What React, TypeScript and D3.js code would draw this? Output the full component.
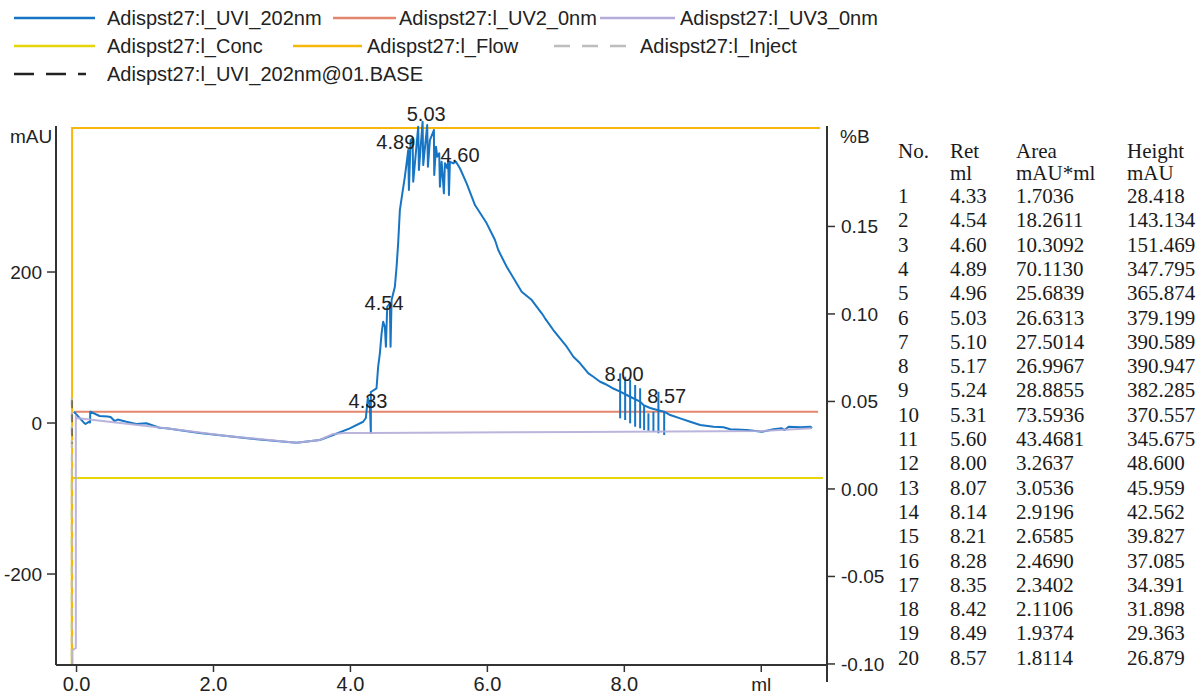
import React from "react";
import * as d3 from "d3";

// ---- data ----
const seriesNames = [
  "Adispst27:l_UVI_202nm",
  "Adispst27:l_UV2_0nm",
  "Adispst27:l_UV3_0nm",
  "Adispst27:l_Conc",
  "Adispst27:l_Flow",
  "Adispst27:l_Inject",
  "Adispst27:l_UVI_202nm@01.BASE",
];
const seriesColors = ["#1775c4", "#e3866c", "#b4add9", "#e4d60a", "#f6b60c", "#bdbdbd", "#222222"];
const seriesDash = ["", "", "", "", "", "16 12", "20 12"];

// UV 202nm trace, [ml, mAU]
const uv1Trace: [number, number][] = [
  [-0.04, 15.0], [0.117, -0.4], [0.13, -1.3], [0.175, 1.3], [0.197, 0.7], [0.2, 15.0],
  [0.336, 9.3], [0.453, 8.6], [0.497, 7.9], [0.556, 2.6], [0.6, 4.6], [0.727, 1.7],
  [0.873, -1.3], [1.019, -0.4], [1.213, -6.2], [1.311, -7.0], [1.798, -13.2], [2.529, -20.5],
  [3.212, -26.1], [3.553, -22.5], [3.747, -15.9], [3.991, -7.0], [4.186, 1.7], [4.225, 6.6],
  [4.254, 33.1], [4.284, 23.8], [4.298, -13.2], [4.298, 41.1], [4.381, 46.0], [4.405, 74.6],
  [4.43, 92.3], [4.455, 118.8], [4.478, 134.2], [4.503, 127.5], [4.518, 101.1], [4.537, 154.0],
  [4.576, 158.5], [4.586, 101.1], [4.601, 162.9], [4.649, 180.5], [4.674, 207.0], [4.697, 238.0],
  [4.722, 282.1], [4.747, 297.6], [4.795, 326.2], [4.82, 344.0], [4.844, 361.6], [4.854, 308.6],
  [4.879, 374.8], [4.908, 377.1], [4.917, 319.6], [4.99, 392.5], [5.0, 335.1], [5.054, 399.1],
  [5.063, 341.7], [5.121, 394.7], [5.132, 339.5], [5.161, 374.8], [5.219, 388.1], [5.224, 328.5],
  [5.249, 366.0], [5.268, 352.7], [5.297, 357.2], [5.307, 313.0], [5.332, 346.1], [5.365, 304.2],
  [5.38, 344.0], [5.414, 337.4], [5.428, 348.3], [5.439, 302.0], [5.453, 346.1], [5.501, 344.0],
  [5.541, 346.1], [5.599, 337.4], [5.697, 317.5], [5.819, 288.7], [5.99, 264.5], [6.111, 242.4],
  [6.159, 229.1], [6.282, 207.0], [6.501, 173.9], [6.648, 162.9], [6.794, 145.3], [6.842, 138.7],
  [6.963, 123.2], [7.159, 101.1], [7.256, 87.8], [7.354, 79.1], [7.475, 65.8], [7.548, 61.3],
  [7.646, 54.7], [7.719, 51.7], [7.822, 46.4], [7.939, 41.5], [8.085, 34.8], [8.231, 28.2],
  [8.28, 23.8], [8.377, 19.9], [8.48, 17.2], [8.582, 15.0], [8.67, 10.6], [8.816, 6.2],
  [8.962, 1.7], [9.108, -2.6], [9.303, -4.9], [9.449, -5.7], [9.547, -8.3], [9.791, -9.3],
  [10.01, -11.5], [10.18, -8.3], [10.3, -7.0], [10.34, -9.3], [10.4, -4.9], [10.57, -5.7],
  [10.72, -4.9], [10.74, -7.0],
];

// split marks on the tail peaks (ml, top mAU, bottom mAU)
const tailSpikeMl = [7.939, 8.012, 8.085, 8.158, 8.231, 8.289, 8.352, 8.425, 8.498, 8.582];
const tailSpikeTop = [65.8, 61.3, 57.0, 50.3, 46.0, 23.8, 12.8, 15.0, 41.5, 15.0];
const tailSpikeBottom = [6.2, 4.0, -0.4, -4.9, -7.0, -9.3, -10.2, -11.5, -13.6, -15.9];

const uv2Trace: [number, number][] = [[-0.03, 15.0], [10.83, 15.0]];
const uv3Trace: [number, number][] = [
  [-0.06, -320.5], [-0.06, -301], [-0.01, -298], [-0.01, 8], [0.0, 6.6], [1.311, -7.0],
  [2.2, -17.2], [3.212, -26.1], [3.553, -22.5], [3.747, -14.6], [3.918, -13.2], [4.3, -13.2],
  [7.35, -11.9], [10.01, -10.6], [10.74, -7.0],
];
const flowTrace: [number, number][] = [[-0.065, -320.5], [-0.065, 390.7], [10.86, 390.7]];
const concTrace: [number, number][] = [[-0.07, -0.1006], [-0.07, 0.0063], [10.9, 0.0063]]; // %B
const injectTrace: [number, number][] = [[-0.07, 33], [-0.07, -320.5]];
const baseTrace: [number, number][] = [[-0.065, 30], [-0.065, -27]];

// peak labels [text, ml, mAU]
const peakLabels: [string, number, number][] = [
  ["4.33", 4.257, 29.4],
  ["4.54", 4.491, 159.6],
  ["4.89", 4.663, 372.6],
  ["5.03", 5.107, 409.8],
  ["4.60", 5.601, 355.0],
  ["8.00", 7.996, 64.9],
  ["8.57", 8.62, 35.8],
];

const xTicks = [0, 2, 4, 6, 8, 10];
const xTickLabels = ["0.0", "2.0", "4.0", "6.0", "8.0", "ml"];
const yTicks = [-200, 0, 200];
const bTicks = [-0.1, -0.05, 0, 0.05, 0.1, 0.15];

// peak table
const peakNo = [1, 2, 3, 4, 5, 6, 7, 8, 9, 10, 11, 12, 13, 14, 15, 16, 17, 18, 19, 20];
const peakRet = [4.33, 4.54, 4.6, 4.89, 4.96, 5.03, 5.1, 5.17, 5.24, 5.31, 5.6, 8.0, 8.07, 8.14, 8.21, 8.28, 8.35, 8.42, 8.49, 8.57];
const peakArea = [1.7036, 18.2611, 10.3092, 70.113, 25.6839, 26.6313, 27.5014, 26.9967, 28.8855, 73.5936, 43.4681, 3.2637, 3.0536, 2.9196, 2.6585, 2.469, 2.3402, 2.1106, 1.9374, 1.8114];
const peakHeight = [28.418, 143.134, 151.469, 347.795, 365.874, 379.199, 390.589, 390.947, 382.285, 370.557, 345.675, 48.6, 45.959, 42.562, 39.827, 37.085, 34.391, 31.898, 29.363, 26.879];

const App = () => {
  const W = 1202;
  const H = 696;
  const left = 56, right = 827, top = 126, bottom = 665;

  const x = d3.scaleLinear().domain([-0.3, 10.96]).range([left, right]);
  const y = d3.scaleLinear().domain([-320.5, 393.4]).range([bottom, top]);
  const yB = d3.scaleLinear().domain([-0.1006, 0.2074]).range([bottom, top]);

  const lineMau = d3.line<[number, number]>().x((d) => x(d[0])).y((d) => y(d[1]));
  const lineB = d3.line<[number, number]>().x((d) => x(d[0])).y((d) => yB(d[1]));

  const sans = "'Liberation Sans', Arial, sans-serif";
  const serif = "'Liberation Serif', 'Times New Roman', serif";
  const axisColor = "#333";

  // legend layout: line start, line end, text x, row
  const legendLayout = [
    [14, 95, 107, 0], [333, 396, 399, 0], [600, 675, 680, 0],
    [14, 95, 107, 1], [293, 362, 367, 1], [554, 626, 640, 1],
    [14, 86, 107, 2],
  ];

  const tableCols = [898, 950, 1016, 1127];

  return (
    <svg
      width={W}
      height={H}
      style={{ position: "absolute", left: 0, top: 0, display: "block", background: "#fff" }}
      fontFamily={sans}
    >
      {/* legend */}
      {seriesNames.map((name, i) => {
        const [x0, x1, tx, row] = legendLayout[i];
        const ly = 18 + row * 28;
        return (
          <g key={name}>
            <line x1={x0} x2={x1} y1={ly} y2={ly} stroke={seriesColors[i]} strokeWidth={2.5}
              strokeDasharray={seriesDash[i] || undefined} />
            <text x={tx} y={ly + 7} fontSize={20} fill="#222">{name}</text>
          </g>
        );
      })}

      {/* series */}
      <path d={lineB(concTrace) || ""} fill="none" stroke={seriesColors[3]} strokeWidth={2} />
      <path d={lineMau(flowTrace) || ""} fill="none" stroke={seriesColors[4]} strokeWidth={2} />
      <path d={lineMau(uv2Trace) || ""} fill="none" stroke={seriesColors[1]} strokeWidth={2} />
      <path d={lineMau(uv1Trace) || ""} fill="none" stroke={seriesColors[0]} strokeWidth={2} strokeLinejoin="round" />
      {tailSpikeMl.map((m, i) => (
        <line key={i} x1={x(m)} x2={x(m)} y1={y(tailSpikeTop[i])} y2={y(tailSpikeBottom[i])}
          stroke={seriesColors[0]} strokeWidth={2} />
      ))}
      <path d={lineMau(uv3Trace) || ""} fill="none" stroke={seriesColors[2]} strokeWidth={2} opacity={0.9} />
      <path d={lineMau(injectTrace) || ""} fill="none" stroke={seriesColors[5]} strokeWidth={2} strokeDasharray="8 6" />
      <path d={lineMau(baseTrace) || ""} fill="none" stroke={seriesColors[6]} strokeWidth={1.5} strokeDasharray="8 6" opacity={0.6} />

      {/* peak labels */}
      {peakLabels.map(([t, m, v]) => (
        <text key={t + m} x={x(m)} y={y(v)} dy="0.36em" textAnchor="middle" fontSize={20} fill="#222">{t}</text>
      ))}

      {/* left axis */}
      <line x1={left} x2={left} y1={top} y2={bottom} stroke={axisColor} strokeWidth={2} />
      {yTicks.map((t) => (
        <g key={t}>
          <line x1={left - 9} x2={left} y1={y(t)} y2={y(t)} stroke={axisColor} strokeWidth={1.5} />
          <text x={left - 14} y={y(t)} dy="0.36em" textAnchor="end" fontSize={19} fill="#222">{t}</text>
        </g>
      ))}
      <text x={10} y={143} fontSize={19} fill="#222">mAU</text>

      {/* right axis */}
      <line x1={right} x2={right} y1={top} y2={682} stroke={axisColor} strokeWidth={2} />
      {bTicks.map((t) => (
        <g key={t}>
          <line x1={right} x2={right + 8} y1={yB(t)} y2={yB(t)} stroke={axisColor} strokeWidth={1.5} />
          <text x={right + 14} y={yB(t)} dy="0.36em" fontSize={19} fill="#222">{t.toFixed(2)}</text>
        </g>
      ))}
      <text x={840} y={143} fontSize={19} fill="#222">%B</text>

      {/* bottom axis */}
      <line x1={left} x2={right} y1={bottom} y2={bottom} stroke={axisColor} strokeWidth={2} />
      {xTicks.map((t, i) => (
        <g key={t}>
          <line x1={x(t)} x2={x(t)} y1={bottom} y2={bottom + 7} stroke={axisColor} strokeWidth={1.5} />
          <text x={x(t)} y={691} textAnchor="middle" fontSize={i === 5 ? 19 : 20} fill="#222">{xTickLabels[i]}</text>
        </g>
      ))}

      {/* peak table */}
      <g fontFamily={serif} fontSize={21} fill="#1a1a1a">
        {["No.", "Ret", "Area", "Height"].map((h, i) => (
          <text key={h} x={tableCols[i]} y={158}>{h}</text>
        ))}
        {["ml", "mAU*ml", "mAU"].map((h, i) => (
          <text key={h} x={tableCols[i + 1]} y={180}>{h}</text>
        ))}
        {peakNo.map((n, i) => {
          const ry = 203 + i * 24.3;
          return (
            <g key={n}>
              <text x={tableCols[0]} y={ry}>{n}</text>
              <text x={tableCols[1]} y={ry}>{peakRet[i].toFixed(2)}</text>
              <text x={tableCols[2]} y={ry}>{peakArea[i].toFixed(4)}</text>
              <text x={tableCols[3]} y={ry}>{peakHeight[i].toFixed(3)}</text>
            </g>
          );
        })}
      </g>
    </svg>
  );
};

export default App;
